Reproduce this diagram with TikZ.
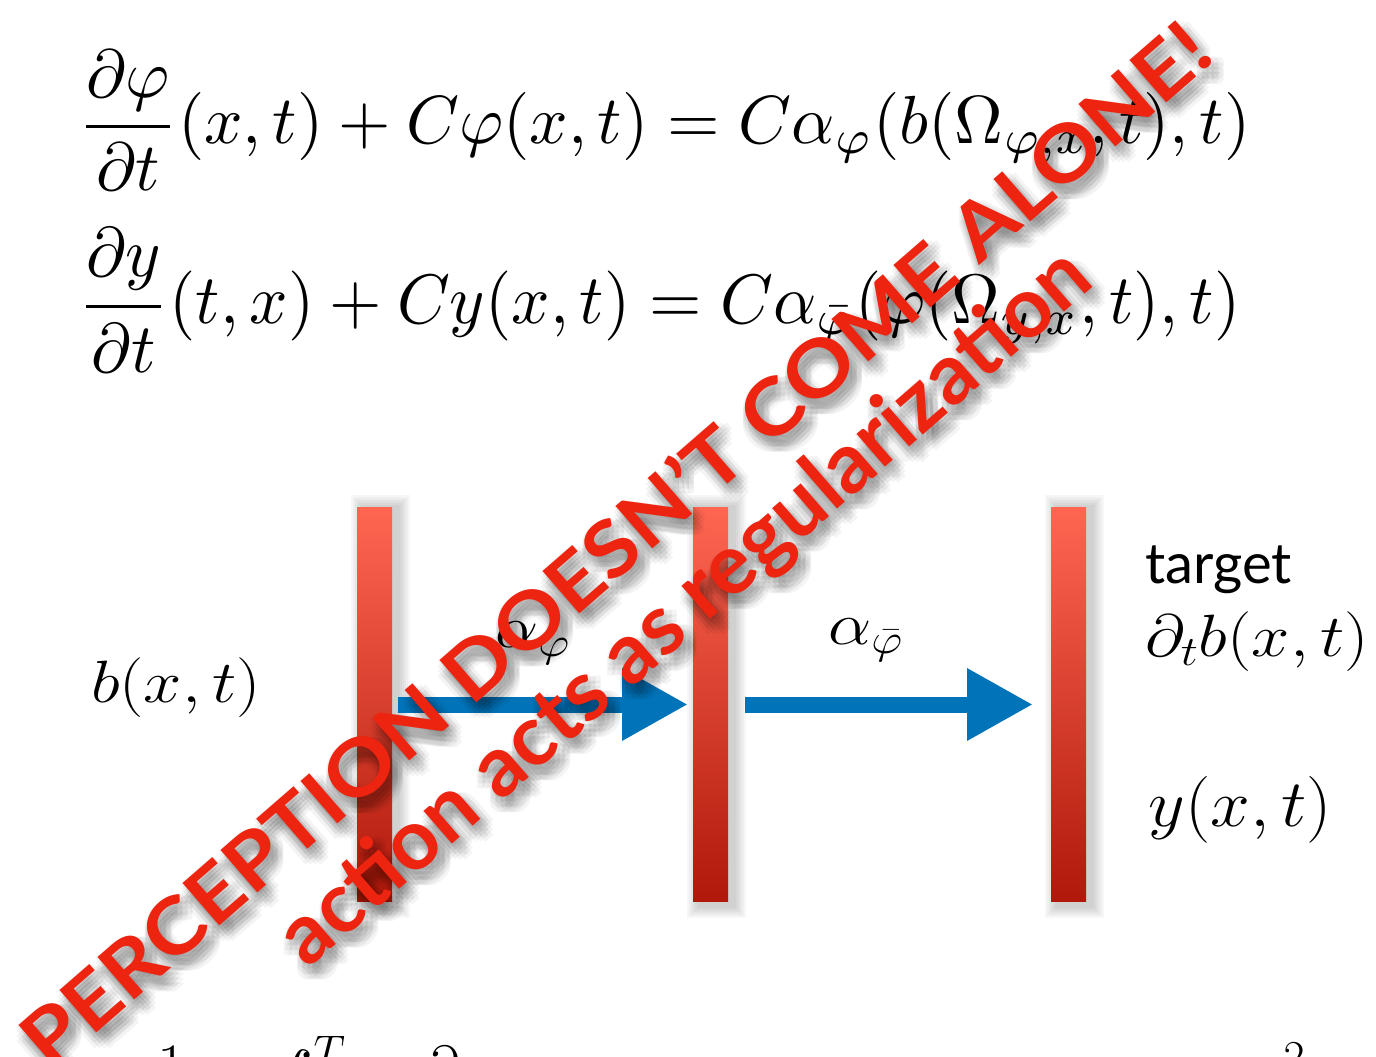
\RequirePackage{fix-cm}
\documentclass[tikz,border=0pt]{standalone}
\usepackage{amsmath}
\usepackage{amssymb}
\usepackage{xcolor}
\usepackage{graphicx}
\usepackage{fontspec}
\usepackage{tikz}
\usetikzlibrary{arrows.meta,positioning}

\newfontfamily\slidesans{Lato}

\definecolor{barTop}{HTML}{FF6652}
\definecolor{barBottom}{HTML}{B0180A}
\definecolor{flowBlue}{HTML}{0073B9}
\definecolor{stampRed}{HTML}{EC2410}

\newcommand{\sloganA}{\resizebox{30.9cm}{1.2cm}{\slidesans\bfseries PERCEPTION DOESN’T COME ALONE!}}
\newcommand{\sloganB}{\resizebox{20.9cm}{!}{\slidesans\bfseries action acts as regularization}}

\tikzset{
  layer/.style={rectangle, inner sep=0pt, outer sep=0pt,
                minimum width=0.7cm, minimum height=7.9cm,
                top color=barTop, bottom color=barBottom},
  flow/.style={-{Triangle[length=1.32cm,width=1.36cm]}, line width=0.32cm, draw=flowBlue},
  mathlab/.style={inner sep=0pt, xscale=1.15, font=\fontsize{34}{40}\selectfont},
  stamp/.style={rotate=41, inner sep=0pt, anchor=base},
}

\begin{document}
\begin{tikzpicture}[x=0.02cm, y=-0.02cm]
  \path[fill=white] (0,0) rectangle (1376,1057);
  \useasboundingbox (0,0) rectangle (1376,1057);

  % equations
  \node[inner sep=0pt, anchor=west] (eqphi) at (78,120)
    {\resizebox*{23.44cm}{2.8cm}{$\displaystyle \frac{\partial\varphi}{\partial t}(x,t)+C\varphi(x,t)=C\alpha_{\varphi}(b(\Omega_{\varphi,x},t),t)$}};
  \node[inner sep=0pt, anchor=west] (eqy) at (78,300)
    {\resizebox*{23.24cm}{2.88cm}{$\displaystyle \frac{\partial y}{\partial t}(t,x)+Cy(x,t)=C\alpha_{\bar\varphi}(\varphi(\Omega_{y,x},t),t)$}};

  % the three layers
  \foreach \name/\x in {inbar/374.5, midbar/710.5, outbar/1068.5}{
    \foreach \s in {2,4,...,12}
      \fill[black, opacity=0.03] (\x-11.5-\s, 507-\s) rectangle (\x+23.5+\s, 906+\s);
    \node[layer] (\name) at (\x,704.5) {};
  }

  \draw[flow, shorten <=0.12cm, shorten >=0.1cm] (inbar) -- (midbar);
  \draw[flow, shorten <=0.34cm, shorten >=0.36cm] (midbar) -- (outbar);

  \node[mathlab] (bxt) at (176,688) {$b(x,t)$};
  \node[mathlab] (aphi) at (533,643) {$\alpha_{\varphi}$};
  \node[mathlab] (abar) at (866,640) {$\alpha_{\bar\varphi}$};
  \node[inner sep=0pt, anchor=base west, font=\slidesans\fontsize{32}{38}\selectfont] (target) at (1145,583) {target};
  \node[mathlab, anchor=west] (dtb) at (1145,642) {$\partial_t b(x,t)$};
  \node[mathlab, anchor=west, xscale=0.93, font=\fontsize{38}{44}\selectfont] (yxt) at (1148,810) {$y(x,t)$};

  % cut off at the bottom
  \node[inner sep=0pt, anchor=north, font=\fontsize{36}{42}\selectfont] (one) at (172,1046) {$1$};
  \node[inner sep=0pt, anchor=north west, font=\fontsize{36}{42}\selectfont] (integ) at (250,1036) {$\displaystyle\int^T$};
  \node[inner sep=0pt, anchor=north, font=\fontsize{36}{42}\selectfont] (dd) at (442,1046) {$\partial$};
  \node[inner sep=0pt, anchor=north, font=\fontsize{26}{30}\selectfont] (sq) at (1294,1043) {$2$};

  % stamp with soft shadow
  \foreach \dx in {-2,3,8,13}
    \foreach \dy in {1,6,11,16}{
      \node[stamp, text=black, text opacity=0.045] at (634+\dx,566+\dy) {\sloganA};
      \node[stamp, text=black, text opacity=0.045] at (702+\dx,627+\dy) {\sloganB};
    }
  \node[stamp, text=stampRed] (perc) at (634,566) {\sloganA};
  \node[stamp, text=stampRed] (reg) at (702,627) {\sloganB};
\end{tikzpicture}
\end{document}
